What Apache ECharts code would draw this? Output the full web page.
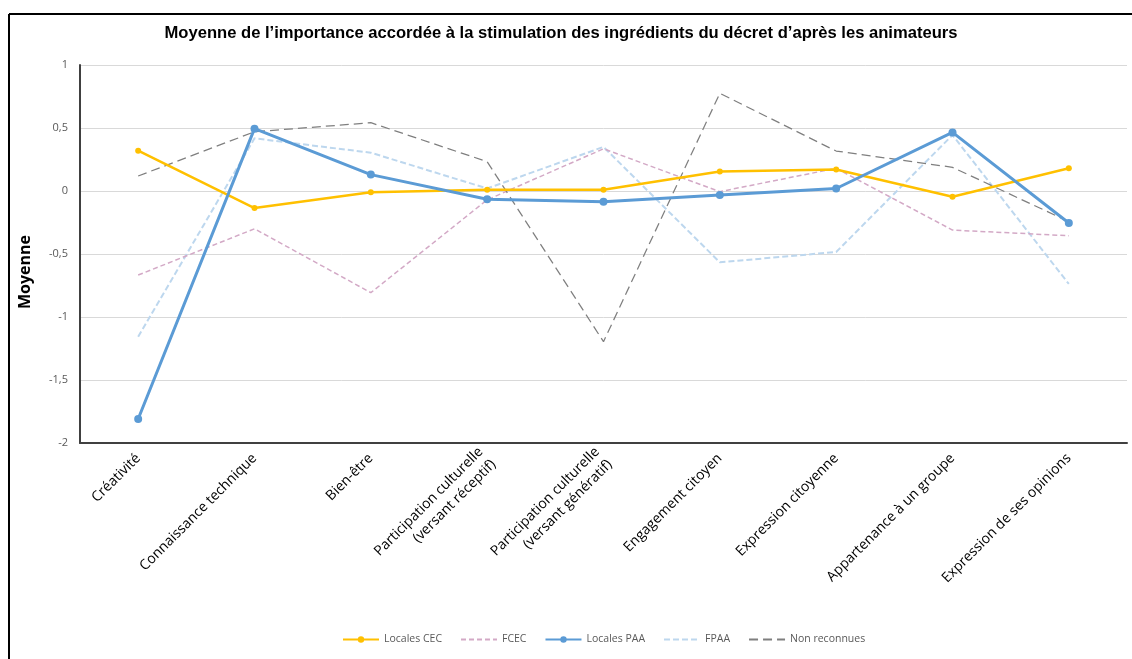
<!DOCTYPE html>
<html>
<head>
<meta charset="utf-8">
<script src="https://cdn.jsdelivr.net/npm/echarts@6/dist/echarts.min.js"></script>
<style>
html,body{margin:0;padding:0;background:#fff;}
#chart{width:1132px;height:659px;}
</style>
</head>
<body>
<div id="chart"></div>
<script>
const categories = [
  "Créativité",
  "Connaissance technique",
  "Bien-être",
  "Participation culturelle\n(versant réceptif)",
  "Participation culturelle\n(versant génératif)",
  "Engagement citoyen",
  "Expression citoyenne",
  "Appartenance à un groupe",
  "Expression de ses opinions"
];
const seriesNames = ["Locales CEC", "FCEC", "Locales PAA", "FPAA", "Non reconnues"];
const localesCEC   = [0.32, -0.135, -0.01, 0.01, 0.01, 0.155, 0.17, -0.045, 0.18];
const fcec         = [-0.667, -0.30, -0.807, -0.07, 0.335, -0.005, 0.18, -0.31, -0.355];
const localesPAA   = [-1.81, 0.495, 0.13, -0.065, -0.085, -0.032, 0.02, 0.465, -0.254];
const fpaa         = [-1.157, 0.418, 0.304, 0.02, 0.35, -0.566, -0.484, 0.444, -0.738];
const nonReconnues = [0.119, 0.47, 0.542, 0.233, -1.196, 0.775, 0.317, 0.188, -0.243];
const yTicks = { min: -2, max: 1, interval: 0.5 };
const titleText = "Moyenne de l’importance accordée à la stimulation des ingrédients du décret d’après les animateurs";
const yAxisTitle = "Moyenne";

const chart = echarts.init(document.getElementById('chart'), null, {renderer: 'canvas'});
const font = "'Open Sans', 'Noto Sans', sans-serif";
const hiddenSymbol = { color: 'rgba(0,0,0,0)', borderWidth: 0, borderColor: 'rgba(0,0,0,0)' };
chart.setOption({
  animation: false,
  backgroundColor: '#ffffff',
  graphic: [
    { type: 'line', shape: { x1: 9, y1: 14, x2: 1132, y2: 14 }, style: { stroke: '#000', lineWidth: 2 } },
    { type: 'line', shape: { x1: 9, y1: 14, x2: 9, y2: 659 }, style: { stroke: '#000', lineWidth: 2 } }
  ],
  title: {
    text: titleText,
    left: 556, textAlign: 'center', top: 20,
    textStyle: { fontFamily: "'Liberation Sans', Arial, sans-serif", fontWeight: 'bold', fontSize: 16.6, color: '#000' }
  },
  legend: {
    bottom: 9, left: 337,
    itemWidth: 36, itemHeight: 8, itemGap: 18,
    textStyle: { fontFamily: font, fontSize: 10.5, color: '#595959' },
    data: [
      { name: seriesNames[0] },
      { name: seriesNames[1], itemStyle: hiddenSymbol },
      { name: seriesNames[2] },
      { name: seriesNames[3], itemStyle: hiddenSymbol },
      { name: seriesNames[4], itemStyle: hiddenSymbol }
    ]
  },
  grid: { left: 80, right: 5, top: 65, bottom: 216, containLabel: false },
  xAxis: {
    type: 'category',
    data: categories,
    boundaryGap: true,
    axisLine: { onZero: false, lineStyle: { color: '#404040', width: 2 } },
    axisTick: { show: false },
    axisLabel: { rotate: 45, fontFamily: font, fontSize: 14, color: '#000', margin: 13, interval: 0, lineHeight: 18 }
  },
  yAxis: {
    type: 'value',
    min: yTicks.min, max: yTicks.max, interval: yTicks.interval,
    name: yAxisTitle, nameLocation: 'middle', nameGap: 47,
    nameTextStyle: { fontFamily: font, fontWeight: 'bold', fontSize: 16, color: '#000', padding: [0, 36, 0, 0] },
    axisLine: { show: true, lineStyle: { color: '#404040', width: 2 } },
    axisTick: { show: false },
    splitLine: { lineStyle: { color: '#d9d9d9', width: 1 } },
    axisLabel: {
      fontFamily: font, fontSize: 11, color: '#595959', margin: 12,
      formatter: v => String(v).replace('.', ',')
    }
  },
  series: [
    { name: seriesNames[0], type: 'line', data: localesCEC, color: '#FFC000',
      symbol: 'circle', symbolSize: 6, lineStyle: { width: 2.5, color: '#FFC000' }, itemStyle: { color: '#FFC000' }, z: 4 },
    { name: seriesNames[1], type: 'line', data: fcec, color: '#D3A9C6',
      symbol: 'none', lineStyle: { width: 1.5, type: [5, 3], color: '#D3A9C6' }, z: 2 },
    { name: seriesNames[2], type: 'line', data: localesPAA, color: '#5B9BD5',
      symbol: 'circle', symbolSize: 8, lineStyle: { width: 3, color: '#5B9BD5' }, itemStyle: { color: '#5B9BD5' }, z: 5 },
    { name: seriesNames[3], type: 'line', data: fpaa, color: '#BDD7EE',
      symbol: 'none', lineStyle: { width: 2, type: [6, 3], color: '#BDD7EE' }, z: 1 },
    { name: seriesNames[4], type: 'line', data: nonReconnues, color: '#7F7F7F',
      symbol: 'none', lineStyle: { width: 1.25, type: [9, 5], color: '#7F7F7F' }, z: 3 }
  ]
});
</script>
</body>
</html>
